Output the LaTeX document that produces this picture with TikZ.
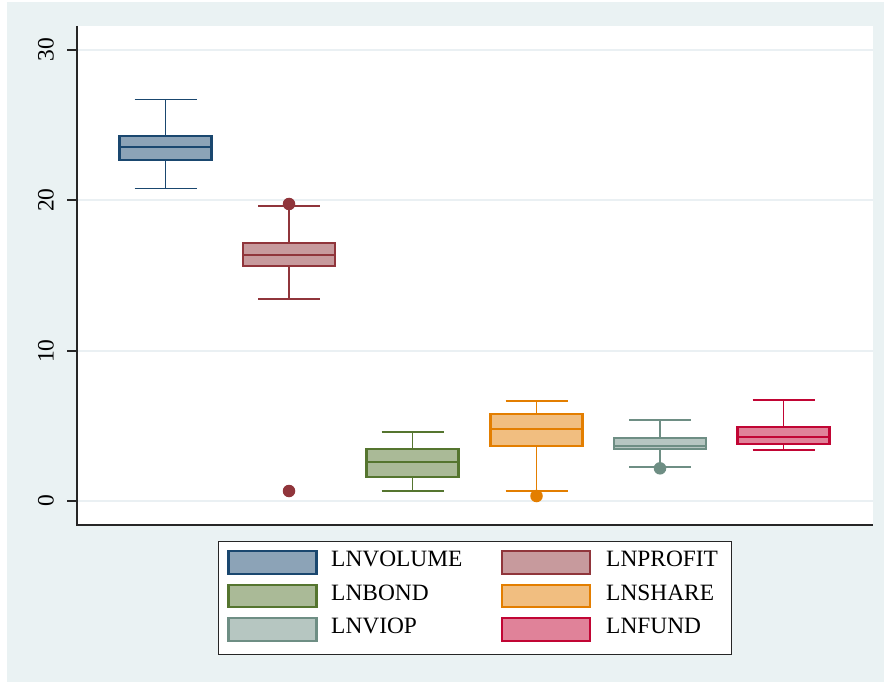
\documentclass[tikz,border=0pt]{standalone}
\usepackage{fontspec}
\setmainfont{Liberation Serif}
\definecolor{bgc}{HTML}{EAF2F3}
\definecolor{gridc}{HTML}{EAF0F3}
\definecolor{cblue}{HTML}{1A476F}
\definecolor{cmaroon}{HTML}{90353B}
\definecolor{cgreen}{HTML}{55752F}
\definecolor{corange}{HTML}{E37E00}
\definecolor{cteal}{HTML}{6E8E84}
\definecolor{ccran}{HTML}{C10534}
\newcommand\myboxplot[8]{% #1 x center, #2 q3 y, #3 median y, #4 q1 y, #5 upper cap y, #6 lower cap y, #7 colour, #8 name
  \draw[whisk, draw=#7] (#1,#2) -- (#1,#5);
  \draw[whisk, draw=#7] (#1,#4) -- (#1,#6);
  \draw[whisk, draw=#7] (#1-31,#5) -- (#1+31,#5);
  \draw[whisk, draw=#7] (#1-31,#6) -- (#1+31,#6);
  \node[bpbox, draw=#7, fill=#7!50!white, minimum height={#4-#2}] (#8) at (#1,{(#2+#4)/2}) {};
  \draw[bpline, draw=#7] (#1-46,#3) -- (#1+46,#3);
}
\tikzset{
  whisk/.style={line width=1.8pt},
  bpbox/.style={rectangle, line width=2.2pt, minimum width=92pt, inner sep=0pt, outer sep=0pt},
  bpline/.style={line width=2.2pt},
  outl/.style={circle, inner sep=0pt, minimum size=12.5pt},
  gridl/.style={draw=gridc, line width=1.5pt},
  ticklab/.style={rotate=90, anchor=base, font=\fontsize{23.5}{25}\selectfont},
  legtext/.style={anchor=base west, font=\fontsize{23.4}{25}\selectfont},
  legkey/.style={rectangle, line width=2.2pt, minimum width=88pt, minimum height=22.5pt, inner sep=0pt}
}
\begin{document}
\begin{tikzpicture}[x=1pt,y=-1pt]
\useasboundingbox (0,0) rectangle (884,682);
\fill[white] (0,0) rectangle (884,682);
\fill[bgc] (7,2) rectangle (884,682);
\fill[white] (77,26) rectangle (873,525);
% grid lines
\foreach \yy in {50,200,351,501} {\draw[gridl] (78,\yy) -- (873,\yy);}
% axes
\draw[line width=1.3pt, black!85] (77,26) -- (77,525) -- (873,525);
\foreach \yy/\lab in {50/30,200/20,351/10,501/0} {
  \draw[line width=1.3pt, black!85] (67,\yy) -- (77,\yy);
  \node[ticklab] (t\lab) at (53.5,\yy) {\lab};
}
% boxes
\myboxplot{165.5}{136}{147}{160}{99.5}{188.5}{cblue}{bvol}
\myboxplot{289}{243}{254.7}{266}{205.7}{299}{cmaroon}{bprof}
\myboxplot{412.5}{449}{461.7}{476.7}{431.7}{490.7}{cgreen}{bbond}
\myboxplot{536.5}{414.3}{429}{445.7}{401}{491}{corange}{bshare}
\myboxplot{660}{438.3}{445.7}{449}{420}{467}{cteal}{bviop}
\myboxplot{783.5}{426.7}{436.7}{444}{400.3}{449.7}{ccran}{bfund}
% outliers
\node[outl, fill=cmaroon] (o1) at (289,204) {};
\node[outl, fill=cmaroon] (o2) at (289,491) {};
\node[outl, fill=corange] (o3) at (536.5,496) {};
\node[outl, fill=cteal] (o4) at (660,468.3) {};
% legend
\draw[black!85, line width=1pt, fill=white] (218,541.5) rectangle (731,654) coordinate (legbr);
\node[legkey, draw=cblue, fill=cblue!50!white] (k1) at (272.5,562.5) {};
\node[legkey, draw=cgreen, fill=cgreen!50!white] (k2) at (272.5,596) {};
\node[legkey, draw=cteal, fill=cteal!50!white] (k3) at (272.5,629.5) {};
\node[legkey, draw=cmaroon, fill=cmaroon!50!white] (k4) at (546.2,562.5) {};
\node[legkey, draw=corange, fill=corange!50!white] (k5) at (546.2,596) {};
\node[legkey, draw=ccran, fill=ccran!50!white] (k6) at (546.2,629.5) {};
\node[legtext, inner sep=0pt] (l1) at (331,566.7) {LNVOLUME};
\node[legtext, inner sep=0pt] (l2) at (331,600) {LNBOND};
\node[legtext, inner sep=0pt] (l3) at (331,633.3) {LNVIOP};
\node[legtext, inner sep=0pt] (l4) at (606,566.7) {LNPROFIT};
\node[legtext, inner sep=0pt] (l5) at (606,600) {LNSHARE};
\node[legtext, inner sep=0pt] (l6) at (606,633.3) {LNFUND};
\end{tikzpicture}
\end{document}
